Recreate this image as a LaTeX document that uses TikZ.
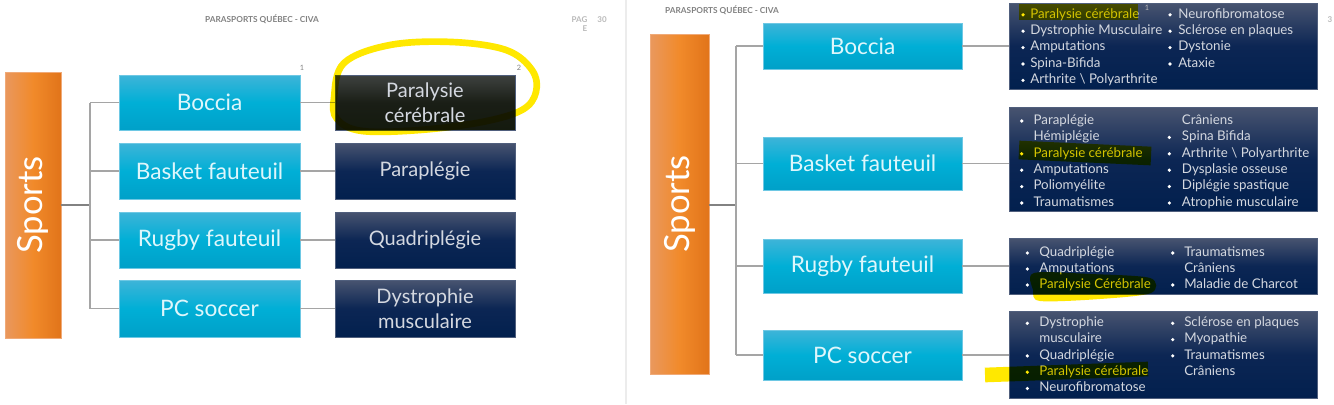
\documentclass[tikz,border=0pt]{standalone}
\usepackage{fontspec}
\setmainfont{Lato}
\definecolor{lbTop}{RGB}{62,180,216}
\definecolor{lbMid}{RGB}{0,175,214}
\definecolor{lbBot}{RGB}{0,160,200}
\definecolor{lbBorder}{RGB}{110,200,228}
\definecolor{lbText}{RGB}{222,246,251}
\definecolor{dbTop}{RGB}{72,84,112}
\definecolor{dbMid}{RGB}{12,38,84}
\definecolor{dbBot}{RGB}{2,32,78}
\definecolor{dbBorder}{RGB}{80,95,125}
\definecolor{dbText}{RGB}{212,216,224}
\definecolor{orL}{RGB}{233,152,94}
\definecolor{orM}{RGB}{241,138,42}
\definecolor{orR}{RGB}{225,116,26}
\definecolor{orBorder}{RGB}{240,170,120}
\definecolor{connC}{RGB}{165,165,165}
\definecolor{trunkC}{RGB}{130,130,130}
\definecolor{hdrC}{RGB}{130,130,130}
\definecolor{pgC}{RGB}{185,185,185}
\definecolor{hlY}{RGB}{255,232,0}
\definecolor{hlBoxTop}{RGB}{62,66,64}
\definecolor{hlBoxMid}{RGB}{26,30,22}
\definecolor{hlBoxBot}{RGB}{20,26,14}
\definecolor{sepC}{RGB}{236,236,236}
\begin{document}
\begin{tikzpicture}[x=0.75pt,y=-0.75pt,
  lbox/.style={draw=lbBorder, line width=0.6pt, top color=lbTop, bottom color=lbBot, middle color=lbMid, text=lbText, font=\fontsize{17}{20}\selectfont, inner sep=0pt},
  dbox/.style={draw=dbBorder, line width=0.6pt, top color=dbTop, bottom color=dbBot, middle color=dbMid, text=dbText, inner sep=0pt},
  hlbox/.style={draw=dbBorder, line width=0.6pt, top color=hlBoxTop, bottom color=hlBoxBot, middle color=hlBoxMid, text=dbText, inner sep=0pt},
  dtext/.style={font=\fontsize{15}{18.75}\selectfont, align=center},
  sbox/.style={draw=orBorder, line width=0.5pt, left color=orL, right color=orR, middle color=orM, inner sep=0pt},
  stext/.style={text=white, font=\fontsize{26}{30}\selectfont, rotate=90, inner sep=0pt},
  hdr/.style={text=hdrC, font=\bfseries\fontsize{6.2}{7}\selectfont, inner sep=0pt},
  pg/.style={text=pgC, font=\bfseries\fontsize{6}{7}\selectfont, inner sep=0pt},
  num/.style={text=hdrC, font=\fontsize{5.5}{6}\selectfont, inner sep=0pt},
  conn/.style={draw=connC, line width=0.9pt},
  trunk/.style={draw=trunkC, line width=0.9pt},
  item/.style={anchor=mid west, inner sep=0pt, text=dbText, font=\fontsize{10}{12}\selectfont},
  hl/.style={draw=hlY, line cap=butt},
]
\useasboundingbox (0,0) rectangle (1334,404);
\fill[white] (0,0) rectangle (1334,404);
% separator
\draw[draw=sepC, line width=1.5pt] (626,0) -- (626,404);

% ---------------- LEFT PANEL ----------------
\node[hdr] (hdrL) at (262,19) {PARASPORTS QUÉBEC - CIVA};
\node[pg] (pag) at (579.5,20) {PAG};
\node[pg] (pagE) at (585,29) {E};
\node[pg] (pagN) at (602,20) {30};
\node[num] (n1) at (302,68) {1};
\node[num] (n2) at (519,68) {2};

\node[sbox, minimum width=42pt, minimum height=199.5pt] (sL) at (33,205) {};
\node[stext] (sLt) at (sL.center) {Sports};

\node[lbox, minimum width=135.75pt, minimum height=41.25pt] (L1) at (209.5,102.5) {Boccia};
\node[lbox, minimum width=135.75pt, minimum height=42pt] (L2) at (209.5,171) {Basket fauteuil};
\node[lbox, minimum width=135.75pt, minimum height=42pt] (L3) at (209.5,240) {Rugby fauteuil};
\node[lbox, minimum width=135.75pt, minimum height=42.75pt] (L4) at (209.5,308.5) {PC soccer};

\node[hlbox, dtext, minimum width=135pt, minimum height=41.25pt] (D1) at (425,102.5) {Paralysie\\cérébrale};
\node[dbox, dtext, minimum width=135pt, minimum height=42pt] (D2) at (425,171) {Paraplégie};
\node[dbox, dtext, minimum width=135pt, minimum height=42pt] (D3) at (425,240) {Quadriplégie};
\node[dbox, dtext, minimum width=135pt, minimum height=42.75pt] (D4) at (425,308.5) {Dystrophie\\musculaire};

\coordinate (busL) at (90,205);
\draw[trunk] (sL.east) -- (sL.east -| busL);
\draw[conn] (L1.west -| busL) -- (L4.west -| busL);
\foreach \i in {1,2,3,4} {
  \draw[conn] (L\i.west -| busL) -- (L\i.west);
  \draw[conn] (L\i.east) -- (D\i.west);
}

% ---------------- RIGHT PANEL ----------------
\node[hdr] (hdrR) at (722,10) {PARASPORTS QUÉBEC - CIVA};
\node[pg] (n3) at (1330,20) {3};

\node[sbox, minimum width=44.25pt, minimum height=255pt] (sR) at (679.5,204) {};
\node[stext] (sRt) at (sR.center) {Sports};

\node[lbox, minimum width=149.25pt, minimum height=34.5pt] (R1) at (862.5,46) {Boccia};
\node[lbox, minimum width=149.25pt, minimum height=39.75pt] (R2) at (862.5,163.5) {Basket fauteuil};
\node[lbox, minimum width=149.25pt, minimum height=40.5pt] (R3) at (862.5,266) {Rugby fauteuil};
\node[lbox, minimum width=149.25pt, minimum height=37.5pt] (R4) at (862.5,355) {PC soccer};

\node[dbox, minimum width=231pt, minimum height=64.5pt] (E1) at (1163,46) {};
\node[dbox, minimum width=231pt, minimum height=78pt] (E2) at (1163,159) {};
\node[dbox, minimum width=231pt, minimum height=42pt] (E3) at (1163,266) {};
\node[dbox, minimum width=231pt, minimum height=65.25pt] (E4) at (1163,354.5) {};

\coordinate (busR) at (736,205);
\draw[trunk] (sR.east |- busR) -- (busR);
\draw[conn] (R1.west -| busR) -- (R4.west -| busR);
\foreach \i in {1,2,3,4} {
  \draw[conn] (R\i.west -| busR) -- (R\i.west);
  \draw[conn] (R\i.east) -- (R\i.east -| E\i.west);
}

% box E1 lists
\foreach \t [count=\k from 0] in {Paralysie cérébrale, Dystrophie Musculaire, Amputations, Spina-Bifida, Arthrite \textbackslash{} Polyarthrite} {
  \fill[white] (1023,14.8+16.4*\k) circle (1.8);
  \node[item] (ea\k) at (1030,14.8+16.4*\k) {\t};
}
\foreach \t [count=\k from 0] in {Neurofibromatose, Sclérose en plaques, Dystonie, Ataxie} {
  \fill[white] (1170,14.8+16.4*\k) circle (1.8);
  \node[item] (eb\k) at (1178,14.8+16.4*\k) {\t};
}
\node[num, text=pgC] (sup1) at (1147,8) {1};

% box E2 lists
\fill[white] (1021.7,121) circle (1.8);
\node[item] (fa0) at (1033.3,121) {Paraplégie};
\node[item] (fa1) at (1033.3,137.4) {Hémiplégie};
\foreach \t [count=\k from 2] in {Paralysie cérébrale, Amputations, Poliomyélite, Traumatismes} {
  \fill[white] (1021.7,121+16.4*\k) circle (1.8);
  \node[item] (fa\k) at (1033.3,121+16.4*\k) {\t};
}
\node[item] (fb0) at (1181.7,121) {Crâniens};
\foreach \t [count=\k from 1] in {Spina Bifida, Arthrite \textbackslash{} Polyarthrite, Dysplasie osseuse, Diplégie spastique, Atrophie musculaire} {
  \fill[white] (1169.3,121+16.4*\k) circle (1.8);
  \node[item] (fb\k) at (1181.7,121+16.4*\k) {\t};
}

% box E3 lists
\foreach \t [count=\k from 0] in {Quadriplégie, Amputations, Paralysie Cérébrale} {
  \fill[white] (1027.3,253+16*\k) circle (1.8);
  \node[item] (ga\k) at (1039,253+16*\k) {\t};
}
\fill[white] (1172.7,253) circle (1.8);
\node[item] (gb0) at (1184,253) {Traumatismes};
\node[item] (gb1) at (1184,269) {Crâniens};
\fill[white] (1172.7,285) circle (1.8);
\node[item] (gb2) at (1184,285) {Maladie de Charcot};

% box E4 lists
\fill[white] (1027.3,323.3) circle (1.8);
\node[item] (ha0) at (1039,323.3) {Dystrophie};
\node[item] (ha1) at (1039,339.6) {musculaire};
\foreach \t [count=\k from 2] in {Quadriplégie, Paralysie cérébrale, Neurofibromatose} {
  \fill[white] (1027.3,323.3+16.3*\k) circle (1.8);
  \node[item] (ha\k) at (1039,323.3+16.3*\k) {\t};
}
\foreach \t [count=\k from 0] in {Sclérose en plaques, Myopathie, Traumatismes} {
  \fill[white] (1172.7,323.3+16.3*\k) circle (1.8);
  \node[item] (hb\k) at (1184,323.3+16.3*\k) {\t};
}
\node[item] (hb3) at (1184,372.2) {Crâniens};

% ---------------- HIGHLIGHTS ----------------
\begin{scope}[blend mode=multiply]
  \draw[hl, line width=5pt, line cap=round]
    plot[smooth cycle, tension=0.6] coordinates {(334,98) (344,63) (390,45) (452,42) (506,50) (532,70) (536,92) (522,110) (482,122) (420,130) (362,131) (337,119)};
  \draw[hl, line width=12pt] (1019,11.5) -- (1138,11.5);
  \draw[hl, line width=14pt] (1019,150) -- (1151,156);
  \fill[hlY] plot[smooth cycle, tension=0.5] coordinates {(1034,273) (1090,274) (1150,278) (1151,293) (1100,299) (1040,301) (1033,290)};
  \draw[hl, line width=11pt] (985,375) -- (1148,369);
\end{scope}
\end{tikzpicture}
\end{document}
